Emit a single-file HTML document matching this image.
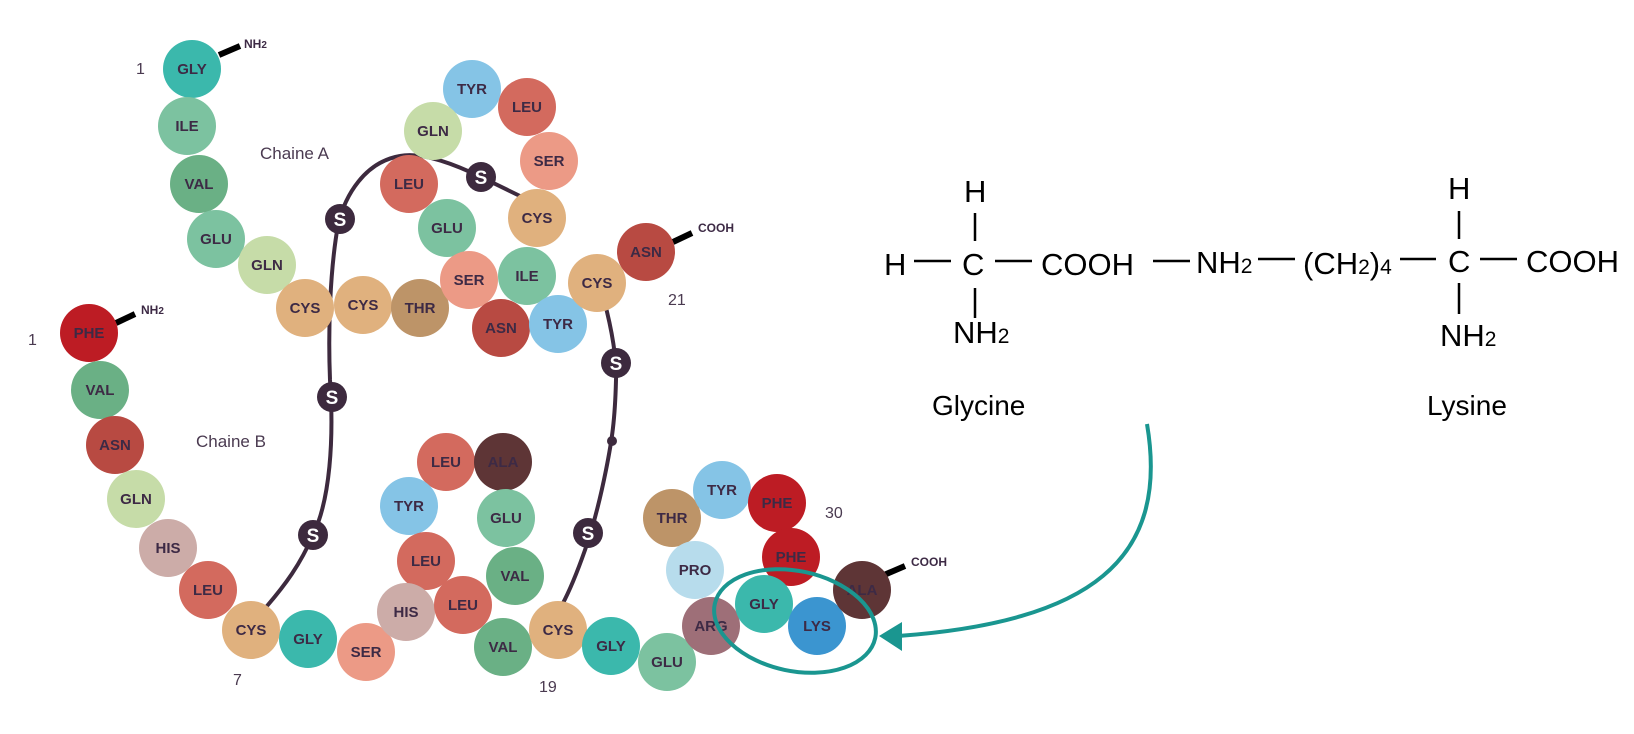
<!DOCTYPE html>
<html><head><meta charset="utf-8"><style>
html,body{margin:0;padding:0;background:#fff;}
svg{display:block;}
.aa{font-family:"Liberation Sans",sans-serif;font-weight:bold;font-size:15px;fill:#3d2a45;text-anchor:middle;}
.lbl{font-family:"Liberation Sans",sans-serif;fill:#4a3a50;}
.tag{font-family:"Liberation Sans",sans-serif;font-weight:bold;font-size:12px;fill:#3d2a45;}
.ch{font-family:"Liberation Sans",sans-serif;font-size:31px;fill:#000;}
.hw{font-family:"Liberation Sans",sans-serif;font-size:28px;fill:#000;}
.s{font-family:"Liberation Sans",sans-serif;font-weight:bold;font-size:19px;fill:#fff;text-anchor:middle;}
</style></head><body>
<svg width="1634" height="734" viewBox="0 0 1634 734" xmlns="http://www.w3.org/2000/svg">
<g fill="none" stroke="#3d2a3e" stroke-width="4" stroke-linecap="round">
<path d="M522,197 L481,177 C450,162 420,152 400,156 C365,162 345,195 338,225 C330,270 328,330 330,380 C334,440 330,500 313,535 C300,565 285,585 267,606"/>
<path d="M604,300 C612,330 617,360 616,380 C615,420 612,440 606,470 C600,500 592,530 585,550 C578,570 570,590 562,605"/>
</g>
<circle cx="612" cy="441" r="5" fill="#3d2a3e"/>
<g stroke="#000" stroke-width="6">
<line x1="219" y1="55" x2="240" y2="46"/>
<line x1="116" y1="323" x2="135" y2="314"/>
<line x1="673" y1="242" x2="692" y2="233"/>
<line x1="884" y1="575" x2="905" y2="566"/>
</g>
<g>
<circle cx="192" cy="69" r="29" fill="#3bb8ac"/><text class="aa" x="192" y="74">GLY</text>
<circle cx="187" cy="126" r="29" fill="#7cc2a0"/><text class="aa" x="187" y="131">ILE</text>
<circle cx="199" cy="184" r="29" fill="#6ab085"/><text class="aa" x="199" y="189">VAL</text>
<circle cx="216" cy="239" r="29" fill="#7cc2a0"/><text class="aa" x="216" y="244">GLU</text>
<circle cx="267" cy="265" r="29" fill="#c6dca8"/><text class="aa" x="267" y="270">GLN</text>
<circle cx="472" cy="89" r="29" fill="#85c4e6"/><text class="aa" x="472" y="94">TYR</text>
<circle cx="527" cy="107" r="29" fill="#d36a5e"/><text class="aa" x="527" y="112">LEU</text>
<circle cx="433" cy="131" r="29" fill="#c6dca8"/><text class="aa" x="433" y="136">GLN</text>
<circle cx="549" cy="161" r="29" fill="#ec9a86"/><text class="aa" x="549" y="166">SER</text>
<circle cx="409" cy="184" r="29" fill="#d36a5e"/><text class="aa" x="409" y="189">LEU</text>
<circle cx="447" cy="228" r="29" fill="#7cc2a0"/><text class="aa" x="447" y="233">GLU</text>
<circle cx="537" cy="218" r="29" fill="#e0b17e"/><text class="aa" x="537" y="223">CYS</text>
<circle cx="305" cy="308" r="29" fill="#e0b17e"/><text class="aa" x="305" y="313">CYS</text>
<circle cx="363" cy="305" r="29" fill="#e0b17e"/><text class="aa" x="363" y="310">CYS</text>
<circle cx="420" cy="308" r="29" fill="#bd9468"/><text class="aa" x="420" y="313">THR</text>
<circle cx="469" cy="280" r="29" fill="#ec9a86"/><text class="aa" x="469" y="285">SER</text>
<circle cx="527" cy="276" r="29" fill="#7cc2a0"/><text class="aa" x="527" y="281">ILE</text>
<circle cx="501" cy="328" r="29" fill="#b84a42"/><text class="aa" x="501" y="333">ASN</text>
<circle cx="558" cy="324" r="29" fill="#85c4e6"/><text class="aa" x="558" y="329">TYR</text>
<circle cx="597" cy="283" r="29" fill="#e0b17e"/><text class="aa" x="597" y="288">CYS</text>
<circle cx="646" cy="252" r="29" fill="#b84a42"/><text class="aa" x="646" y="257">ASN</text>

<circle cx="89" cy="333" r="29" fill="#bd1c24"/><text class="aa" x="89" y="338">PHE</text>
<circle cx="100" cy="390" r="29" fill="#6ab085"/><text class="aa" x="100" y="395">VAL</text>
<circle cx="115" cy="445" r="29" fill="#b84a42"/><text class="aa" x="115" y="450">ASN</text>
<circle cx="136" cy="499" r="29" fill="#c6dca8"/><text class="aa" x="136" y="504">GLN</text>
<circle cx="168" cy="548" r="29" fill="#ccaca8"/><text class="aa" x="168" y="553">HIS</text>
<circle cx="208" cy="590" r="29" fill="#d36a5e"/><text class="aa" x="208" y="595">LEU</text>
<circle cx="251" cy="630" r="29" fill="#e0b17e"/><text class="aa" x="251" y="635">CYS</text>
<circle cx="308" cy="639" r="29" fill="#3bb8ac"/><text class="aa" x="308" y="644">GLY</text>
<circle cx="366" cy="652" r="29" fill="#ec9a86"/><text class="aa" x="366" y="657">SER</text>
<circle cx="446" cy="462" r="29" fill="#d36a5e"/><text class="aa" x="446" y="467">LEU</text>
<circle cx="503" cy="462" r="29" fill="#5e3536"/><text class="aa" x="503" y="467">ALA</text>
<circle cx="409" cy="506" r="29" fill="#85c4e6"/><text class="aa" x="409" y="511">TYR</text>
<circle cx="506" cy="518" r="29" fill="#7cc2a0"/><text class="aa" x="506" y="523">GLU</text>
<circle cx="426" cy="561" r="29" fill="#d36a5e"/><text class="aa" x="426" y="566">LEU</text>
<circle cx="515" cy="576" r="29" fill="#6ab085"/><text class="aa" x="515" y="581">VAL</text>
<circle cx="406" cy="612" r="29" fill="#ccaca8"/><text class="aa" x="406" y="617">HIS</text>
<circle cx="463" cy="605" r="29" fill="#d36a5e"/><text class="aa" x="463" y="610">LEU</text>
<circle cx="503" cy="647" r="29" fill="#6ab085"/><text class="aa" x="503" y="652">VAL</text>
<circle cx="558" cy="630" r="29" fill="#e0b17e"/><text class="aa" x="558" y="635">CYS</text>
<circle cx="611" cy="646" r="29" fill="#3bb8ac"/><text class="aa" x="611" y="651">GLY</text>
<circle cx="667" cy="662" r="29" fill="#7cc2a0"/><text class="aa" x="667" y="667">GLU</text>
<circle cx="672" cy="518" r="29" fill="#bd9468"/><text class="aa" x="672" y="523">THR</text>
<circle cx="722" cy="490" r="29" fill="#85c4e6"/><text class="aa" x="722" y="495">TYR</text>
<circle cx="777" cy="503" r="29" fill="#bd1c24"/><text class="aa" x="777" y="508">PHE</text>
<circle cx="791" cy="557" r="29" fill="#bd1c24"/><text class="aa" x="791" y="562">PHE</text>
<circle cx="695" cy="570" r="29" fill="#b7dcec"/><text class="aa" x="695" y="575">PRO</text>
<circle cx="711" cy="626" r="29" fill="#9e6f78"/><text class="aa" x="711" y="631">ARG</text>
<circle cx="764" cy="604" r="29" fill="#3bb8ac"/><text class="aa" x="764" y="609">GLY</text>
<circle cx="817" cy="626" r="29" fill="#3b95d0"/><text class="aa" x="817" y="631">LYS</text>
<circle cx="862" cy="590" r="29" fill="#5e3536"/><text class="aa" x="862" y="595">ALA</text>
</g>
<g fill="#3d2a3e">
<circle cx="340" cy="219" r="15"/><circle cx="481" cy="177" r="15"/>
<circle cx="332" cy="397" r="15"/><circle cx="313" cy="535" r="15"/>
<circle cx="616" cy="363" r="15"/><circle cx="588" cy="533" r="15"/>
</g>
<g>
<text class="s" x="340" y="226">S</text><text class="s" x="481" y="184">S</text>
<text class="s" x="332" y="404">S</text><text class="s" x="313" y="542">S</text>
<text class="s" x="616" y="370">S</text><text class="s" x="588" y="540">S</text>
</g>
<g class="lbl">
<text x="136" y="74" font-size="16">1</text>
<text x="28" y="345" font-size="16">1</text>
<text x="260" y="159" font-size="17">Chaine A</text>
<text x="196" y="447" font-size="17">Chaine B</text>
<text x="233" y="685" font-size="16">7</text>
<text x="539" y="692" font-size="16">19</text>
<text x="668" y="305" font-size="16">21</text>
<text x="825" y="518" font-size="16">30</text>
</g>
<text class="tag" x="244" y="48">NH<tspan font-size="10">2</tspan></text>
<text class="tag" x="141" y="314">NH<tspan font-size="10">2</tspan></text>
<text class="tag" x="698" y="232">COOH</text>
<text class="tag" x="911" y="566">COOH</text>
<ellipse cx="795" cy="621" rx="82" ry="50" transform="rotate(12 795 621)" fill="none" stroke="#1a9690" stroke-width="4"/>
<path d="M1147,424 C1170,560 1090,622 898,636" fill="none" stroke="#1a9690" stroke-width="4"/>
<polygon points="879,636 902,622 902,651" fill="#1a9690"/>
<g class="ch">
<text x="884" y="275">H</text>
<line x1="914" y1="261" x2="951" y2="261" stroke="#000" stroke-width="2.5"/>
<text x="962" y="275">C</text>
<line x1="995" y1="261" x2="1032" y2="261" stroke="#000" stroke-width="2.5"/>
<text x="1041" y="275">COOH</text>
<line x1="1153" y1="261" x2="1190" y2="261" stroke="#000" stroke-width="2.5"/>
<text x="1196" y="273">NH<tspan font-size="21">2</tspan></text>
<line x1="1258" y1="259" x2="1295" y2="259" stroke="#000" stroke-width="2.5"/>
<text x="1303" y="274">(CH<tspan font-size="21">2</tspan>)<tspan font-size="21">4</tspan></text>
<line x1="1400" y1="259" x2="1436" y2="259" stroke="#000" stroke-width="2.5"/>
<text x="1448" y="272">C</text>
<line x1="1480" y1="259" x2="1517" y2="259" stroke="#000" stroke-width="2.5"/>
<text x="1526" y="272">COOH</text>
<text x="964" y="202">H</text>
<line x1="975" y1="213" x2="975" y2="241" stroke="#000" stroke-width="2.5"/>
<line x1="975" y1="288" x2="975" y2="318" stroke="#000" stroke-width="2.5"/>
<text x="953" y="343">NH<tspan font-size="21">2</tspan></text>
<text x="1448" y="199">H</text>
<line x1="1459" y1="211" x2="1459" y2="239" stroke="#000" stroke-width="2.5"/>
<line x1="1459" y1="283" x2="1459" y2="314" stroke="#000" stroke-width="2.5"/>
<text x="1440" y="346">NH<tspan font-size="21">2</tspan></text>
</g>
<text class="hw" x="932" y="415">Glycine</text>
<text class="hw" x="1427" y="415">Lysine</text>
</svg>
</body></html>
